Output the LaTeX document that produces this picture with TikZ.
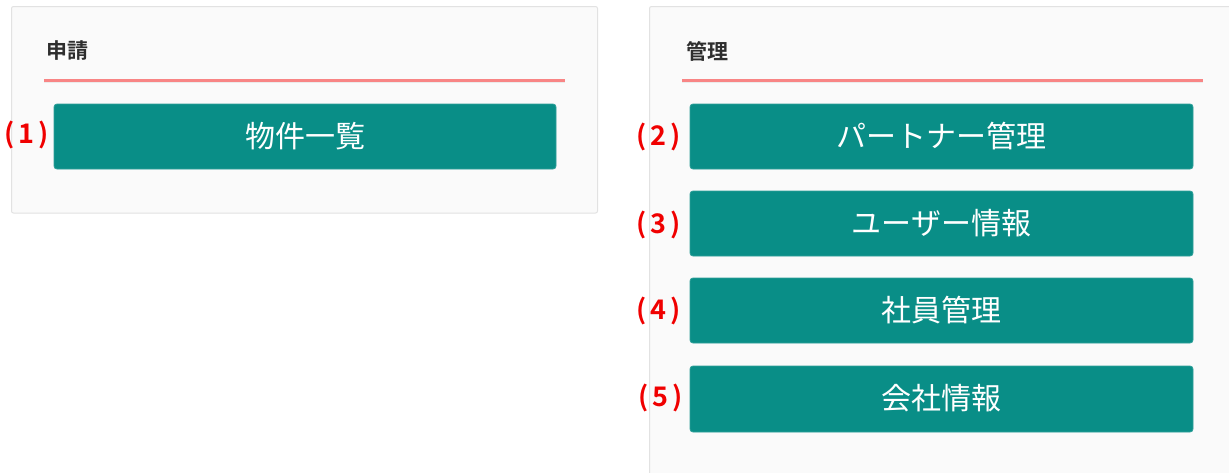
\documentclass[tikz,border=0pt]{standalone}
\usepackage{fontspec}
\setmainfont{Noto Sans CJK JP}
\newfontfamily\jpbold{Noto Sans CJK JP Bold}
\definecolor{panelbg}{HTML}{FAFAFA}
\definecolor{panelline}{HTML}{E2E2E2}
\definecolor{teal}{HTML}{098E87}
\definecolor{redline}{HTML}{F88585}
\definecolor{headtxt}{HTML}{2E2E2E}
\definecolor{lblred}{HTML}{F00000}
\newcommand{\lb}[1]{(\kern4pt#1\kern4pt)}
\begin{document}
\begin{tikzpicture}[x=1pt,y=-1pt,
  panel/.style={draw=panelline,fill=panelbg,line width=1pt,rounded corners=2pt},
  btn/.style={draw=teal!85!white,fill=teal,rounded corners=3pt,line width=0.8pt},
  btntxt/.style={text=white,font=\fontsize{30}{32}\selectfont,inner sep=0pt},
  head/.style={text=headtxt,font=\jpbold\fontsize{21}{24}\selectfont,anchor=west,inner sep=0pt},
  lbl/.style={text=lblred,font=\jpbold\fontsize{27}{29}\selectfont,anchor=east,inner sep=0pt},
  uline/.style={draw=redline,line width=3pt}]
\useasboundingbox (0,0) rectangle (1229,472);
\clip (0,0) rectangle (1229,472);
\fill[white] (0,0) rectangle (1229,472);
% left panel
\draw[panel] (11.5,6.5) rectangle (597.5,213);
\node[head] (h1) at (46,51) {申請};
\draw[draw=black!8,line width=1.2pt] (44,82.8) -- (565,82.8);
\draw[uline] (44,80.5) -- (565,80.5);
\draw[btn] (54,104) rectangle (556,169);
\node[btntxt] (b1) at (305,136) {物件一覧};
\node[lbl] (l1) at (49,135) {\lb{1}};
% right panel
\draw[panel] (649.5,6.5) rectangle (1240,490);
\node[head] (h2) at (686,51) {管理};
\draw[draw=black!8,line width=1.2pt] (682,82.8) -- (1203,82.8);
\draw[uline] (682,80.5) -- (1203,80.5);
\draw[btn] (690,104) rectangle (1193,169);
\node[btntxt] (b2) at (941.5,136) {パートナー管理};
\node[lbl] (l2) at (681,137) {\lb{2}};
\draw[btn] (690,191) rectangle (1193,256);
\node[btntxt] (b3) at (941.5,223) {ユーザー情報};
\node[lbl] (l3) at (681,225) {\lb{3}};
\draw[btn] (690,278) rectangle (1193,343);
\node[btntxt] (b4) at (941.5,310) {社員管理};
\node[lbl] (l4) at (681,311) {\lb{4}};
\draw[btn] (690,366) rectangle (1193,432);
\node[btntxt] (b5) at (941.5,398) {会社情報};
\node[lbl] (l5) at (683,398) {\lb{5}};
\end{tikzpicture}
\end{document}
